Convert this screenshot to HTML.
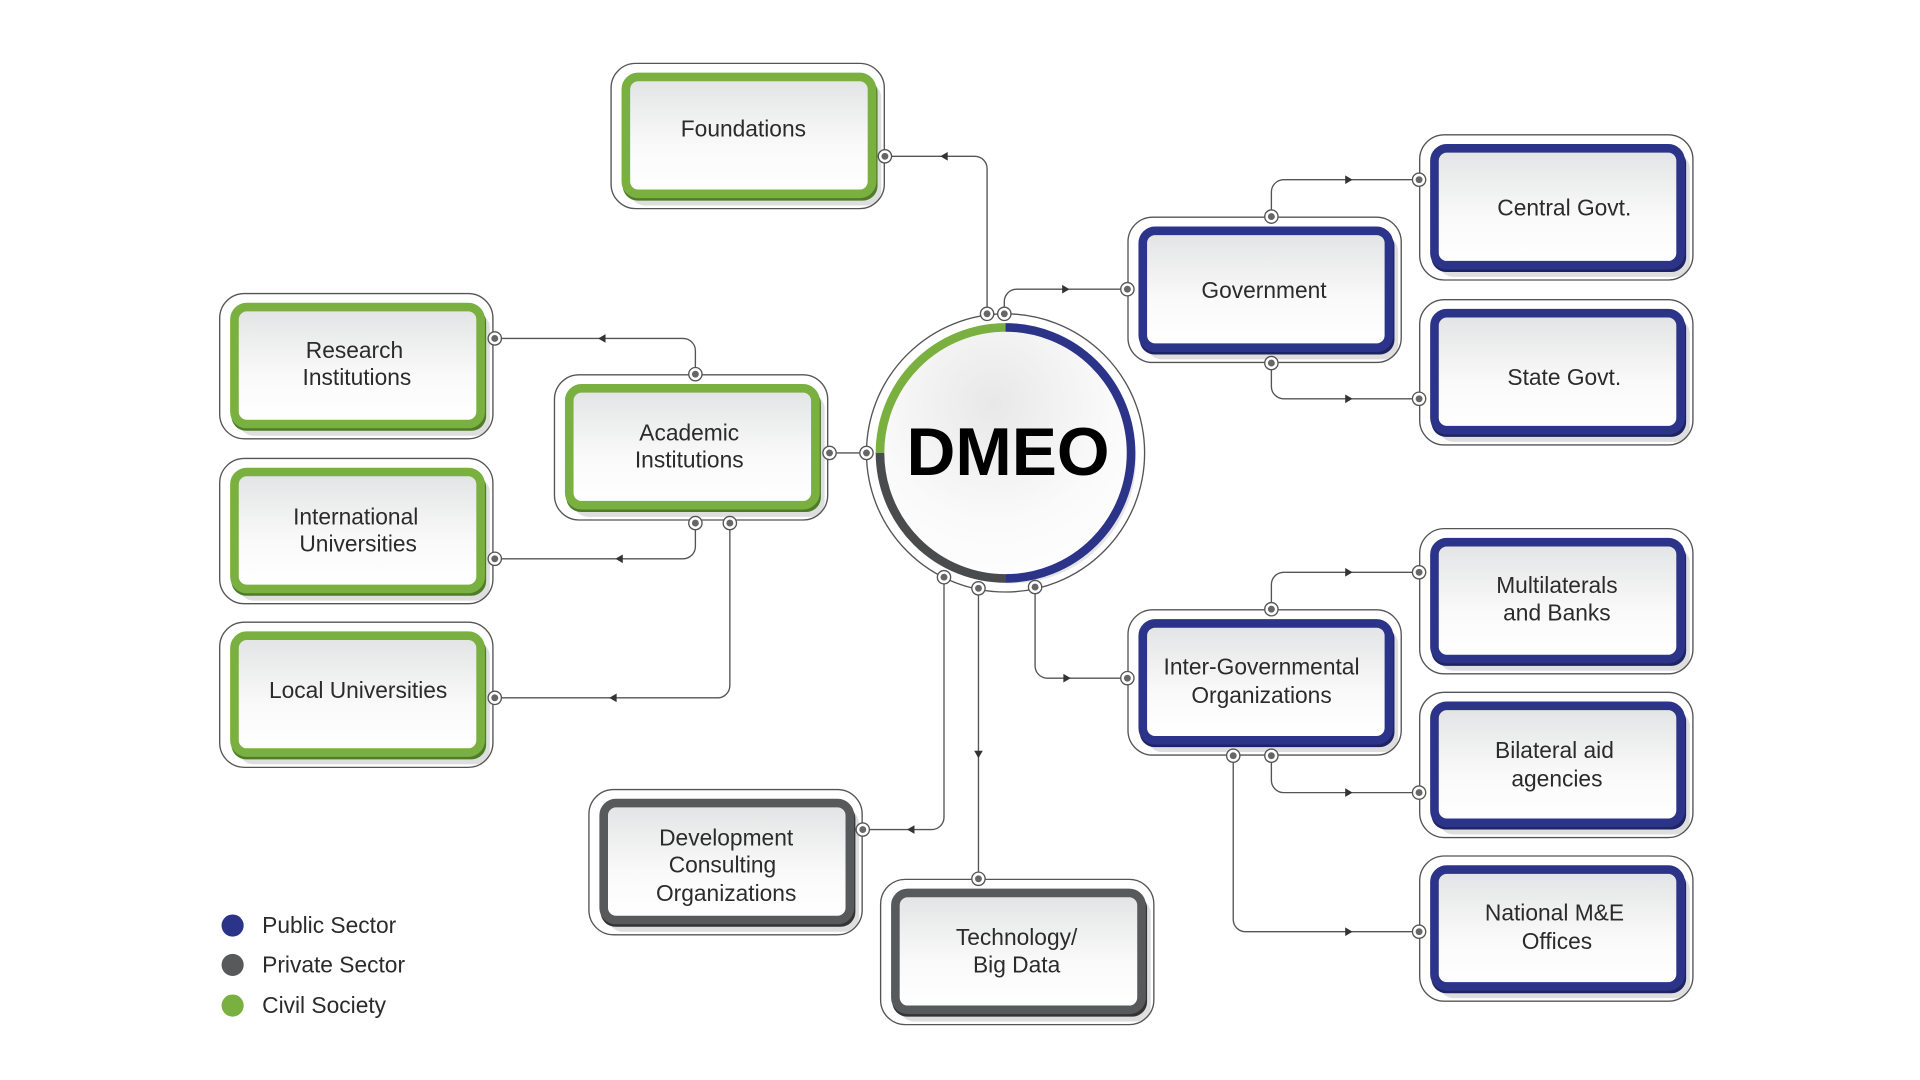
<!DOCTYPE html>
<html><head><meta charset="utf-8"><style>
html,body{margin:0;padding:0;background:#fff;width:1920px;height:1080px;overflow:hidden}
svg{display:block}
text{font-family:"Liberation Sans",Arial,sans-serif;fill:#2b2b2b}
.t{font-size:18.5px;text-anchor:middle}
.ln{fill:none;stroke:#555;stroke-width:1.1}
</style></head><body>
<svg width="1920" height="1080" viewBox="0 0 1560 877.5" preserveAspectRatio="none" xmlns="http://www.w3.org/2000/svg">
<defs>
<linearGradient id="fg" x1="0" y1="0" x2="0" y2="1"><stop offset="0" stop-color="#e2e3e4"/><stop offset="0.6" stop-color="#fafafa"/><stop offset="1" stop-color="#fff"/></linearGradient>
<radialGradient id="cg" cx="0.45" cy="0.3" r="0.8"><stop offset="0" stop-color="#e8e8e8"/><stop offset="0.6" stop-color="#fafafa"/><stop offset="1" stop-color="#fff"/></radialGradient>
<g id="dot"><circle r="5.4" fill="#fff" stroke="#555" stroke-width="1.1"/><circle r="2.8" fill="#666"/></g>
</defs>
<g transform="translate(-2,-1)">
<path class="ln" d="M804 256 V138 a10 10 0 0 0 -10 -10 H721"/>
<path class="ln" d="M818 256 V246 a10 10 0 0 1 10 -10 H918"/>
<path class="ln" d="M676 369 H706"/>
<path class="ln" d="M567 305 V286 a10 10 0 0 0 -10 -10 H404"/>
<path class="ln" d="M567 426 V445 a10 10 0 0 1 -10 10 H404"/>
<path class="ln" d="M595 426 V558 a10 10 0 0 1 -10 10 H404"/>
<path class="ln" d="M1035 177 V157 a10 10 0 0 1 10 -10 H1155"/>
<path class="ln" d="M1035 296 V315 a10 10 0 0 0 10 10 H1155"/>
<path class="ln" d="M843 478 V542 a10 10 0 0 0 10 10 H918"/>
<path class="ln" d="M1035 496 V476 a10 10 0 0 1 10 -10 H1155"/>
<path class="ln" d="M1035 615 V635 a10 10 0 0 0 10 10 H1155"/>
<path class="ln" d="M1004 615 V748 a10 10 0 0 0 10 10 H1155"/>
<path class="ln" d="M769 470 V665 a10 10 0 0 1 -10 10 H703"/>
<path class="ln" d="M797 479 V715"/>
<g fill="#333">
<path d="M766 128 l6 -3.5 v7z"/>
<path d="M871 236 l-6 -3.5 v7z"/>
<path d="M488 276 l6 -3.5 v7z"/>
<path d="M502 455 l6 -3.5 v7z"/>
<path d="M497 568 l6 -3.5 v7z"/>
<path d="M1101 147 l-6 -3.5 v7z"/>
<path d="M1101 325 l-6 -3.5 v7z"/>
<path d="M872 552 l-6 -3.5 v7z"/>
<path d="M1101 466 l-6 -3.5 v7z"/>
<path d="M1101 645 l-6 -3.5 v7z"/>
<path d="M1101 758 l-6 -3.5 v7z"/>
<path d="M739 675 l6 -3.5 v7z"/>
<path d="M797 617 l-3.5 -6 h7z"/>
</g>

<circle cx="819" cy="369" r="113" fill="#fff" stroke="#555" stroke-width="1.1"/>
<circle cx="824" cy="374" r="101" fill="#000" opacity="0.10"/>
<circle cx="819" cy="369" r="101" fill="url(#cg)"/>
<path d="M717 369 A102 102 0 0 1 819 267" fill="none" stroke="#7ab03f" stroke-width="7"/>
<path d="M819 267 A102 102 0 0 1 819 471" fill="none" stroke="#2b3489" stroke-width="7"/>
<path d="M819 471 A102 102 0 0 1 717 369" fill="none" stroke="#4a4b4d" stroke-width="7"/>
<text x="821" y="387" style="font-size:55px;font-weight:bold;text-anchor:middle;fill:#000">DMEO</text>

<g transform="translate(498,52)">
<rect x="0.5" y="0.5" width="222" height="118" rx="20" fill="#fff" stroke="#555" stroke-width="1.1"/>
<rect x="16" y="16" width="204" height="100" rx="12" fill="#000" opacity="0.13"/>
<rect x="10" y="12" width="207" height="100" rx="12" fill="#4e7d2a"/>
<rect x="12.5" y="11.5" width="200" height="95" rx="10" fill="url(#fg)" stroke="#7ab03f" stroke-width="7"/>
<text class="t" x="108" y="60">Foundations</text></g>
<g transform="translate(180,239)">
<rect x="0.5" y="0.5" width="222" height="118" rx="20" fill="#fff" stroke="#555" stroke-width="1.1"/>
<rect x="16" y="16" width="204" height="100" rx="12" fill="#000" opacity="0.13"/>
<rect x="10" y="12" width="207" height="100" rx="12" fill="#4e7d2a"/>
<rect x="12.5" y="11.5" width="200" height="95" rx="10" fill="url(#fg)" stroke="#7ab03f" stroke-width="7"/>
<text class="t" x="110" y="53">Research</text><text class="t" x="112" y="75">Institutions</text></g>
<g transform="translate(180,373)">
<rect x="0.5" y="0.5" width="222" height="118" rx="20" fill="#fff" stroke="#555" stroke-width="1.1"/>
<rect x="16" y="16" width="204" height="100" rx="12" fill="#000" opacity="0.13"/>
<rect x="10" y="12" width="207" height="100" rx="12" fill="#4e7d2a"/>
<rect x="12.5" y="11.5" width="200" height="95" rx="10" fill="url(#fg)" stroke="#7ab03f" stroke-width="7"/>
<text class="t" x="111" y="54">International</text><text class="t" x="113" y="76">Universities</text></g>
<g transform="translate(180,506)">
<rect x="0.5" y="0.5" width="222" height="118" rx="20" fill="#fff" stroke="#555" stroke-width="1.1"/>
<rect x="16" y="16" width="204" height="100" rx="12" fill="#000" opacity="0.13"/>
<rect x="10" y="12" width="207" height="100" rx="12" fill="#4e7d2a"/>
<rect x="12.5" y="11.5" width="200" height="95" rx="10" fill="url(#fg)" stroke="#7ab03f" stroke-width="7"/>
<text class="t" x="113" y="62">Local Universities</text></g>
<g transform="translate(452,305)">
<rect x="0.5" y="0.5" width="222" height="118" rx="20" fill="#fff" stroke="#555" stroke-width="1.1"/>
<rect x="16" y="16" width="204" height="100" rx="12" fill="#000" opacity="0.13"/>
<rect x="10" y="12" width="207" height="100" rx="12" fill="#4e7d2a"/>
<rect x="12.5" y="11.5" width="200" height="95" rx="10" fill="url(#fg)" stroke="#7ab03f" stroke-width="7"/>
<text class="t" x="110" y="54">Academic</text><text class="t" x="110" y="76">Institutions</text></g>
<g transform="translate(918,177)">
<rect x="0.5" y="0.5" width="222" height="118" rx="20" fill="#fff" stroke="#555" stroke-width="1.1"/>
<rect x="16" y="16" width="204" height="100" rx="12" fill="#000" opacity="0.13"/>
<rect x="10" y="12" width="207" height="100" rx="12" fill="#1e2462"/>
<rect x="12.5" y="11.5" width="200" height="95" rx="10" fill="url(#fg)" stroke="#2b3489" stroke-width="7"/>
<text class="t" x="111" y="66">Government</text></g>
<g transform="translate(1155,110)">
<rect x="0.5" y="0.5" width="222" height="118" rx="20" fill="#fff" stroke="#555" stroke-width="1.1"/>
<rect x="16" y="16" width="204" height="100" rx="12" fill="#000" opacity="0.13"/>
<rect x="10" y="12" width="207" height="100" rx="12" fill="#1e2462"/>
<rect x="12.5" y="11.5" width="200" height="95" rx="10" fill="url(#fg)" stroke="#2b3489" stroke-width="7"/>
<text class="t" x="118" y="66">Central Govt.</text></g>
<g transform="translate(1155,244)">
<rect x="0.5" y="0.5" width="222" height="118" rx="20" fill="#fff" stroke="#555" stroke-width="1.1"/>
<rect x="16" y="16" width="204" height="100" rx="12" fill="#000" opacity="0.13"/>
<rect x="10" y="12" width="207" height="100" rx="12" fill="#1e2462"/>
<rect x="12.5" y="11.5" width="200" height="95" rx="10" fill="url(#fg)" stroke="#2b3489" stroke-width="7"/>
<text class="t" x="118" y="70">State Govt.</text></g>
<g transform="translate(1155,430)">
<rect x="0.5" y="0.5" width="222" height="118" rx="20" fill="#fff" stroke="#555" stroke-width="1.1"/>
<rect x="16" y="16" width="204" height="100" rx="12" fill="#000" opacity="0.13"/>
<rect x="10" y="12" width="207" height="100" rx="12" fill="#1e2462"/>
<rect x="12.5" y="11.5" width="200" height="95" rx="10" fill="url(#fg)" stroke="#2b3489" stroke-width="7"/>
<text class="t" x="112" y="53">Multilaterals</text><text class="t" x="112" y="75">and Banks</text></g>
<g transform="translate(918,496)">
<rect x="0.5" y="0.5" width="222" height="118" rx="20" fill="#fff" stroke="#555" stroke-width="1.1"/>
<rect x="16" y="16" width="204" height="100" rx="12" fill="#000" opacity="0.13"/>
<rect x="10" y="12" width="207" height="100" rx="12" fill="#1e2462"/>
<rect x="12.5" y="11.5" width="200" height="95" rx="10" fill="url(#fg)" stroke="#2b3489" stroke-width="7"/>
<text class="t" x="109" y="53">Inter-Governmental</text><text class="t" x="109" y="76">Organizations</text></g>
<g transform="translate(1155,563)">
<rect x="0.5" y="0.5" width="222" height="118" rx="20" fill="#fff" stroke="#555" stroke-width="1.1"/>
<rect x="16" y="16" width="204" height="100" rx="12" fill="#000" opacity="0.13"/>
<rect x="10" y="12" width="207" height="100" rx="12" fill="#1e2462"/>
<rect x="12.5" y="11.5" width="200" height="95" rx="10" fill="url(#fg)" stroke="#2b3489" stroke-width="7"/>
<text class="t" x="110" y="54">Bilateral aid</text><text class="t" x="112" y="77">agencies</text></g>
<g transform="translate(1155,696)">
<rect x="0.5" y="0.5" width="222" height="118" rx="20" fill="#fff" stroke="#555" stroke-width="1.1"/>
<rect x="16" y="16" width="204" height="100" rx="12" fill="#000" opacity="0.13"/>
<rect x="10" y="12" width="207" height="100" rx="12" fill="#1e2462"/>
<rect x="12.5" y="11.5" width="200" height="95" rx="10" fill="url(#fg)" stroke="#2b3489" stroke-width="7"/>
<text class="t" x="110" y="53">National M&amp;E</text><text class="t" x="112" y="76">Offices</text></g>
<g transform="translate(480,642)">
<rect x="0.5" y="0.5" width="222" height="118" rx="20" fill="#fff" stroke="#555" stroke-width="1.1"/>
<rect x="16" y="16" width="204" height="100" rx="12" fill="#000" opacity="0.13"/>
<rect x="10" y="12" width="207" height="100" rx="12" fill="#333436"/>
<rect x="12.5" y="11.5" width="200" height="95" rx="10" fill="url(#fg)" stroke="#58595b" stroke-width="7"/>
<text class="t" x="112" y="46">Development</text><text class="t" x="109" y="68">Consulting</text><text class="t" x="112" y="91">Organizations</text></g>
<g transform="translate(717,715)">
<rect x="0.5" y="0.5" width="222" height="118" rx="20" fill="#fff" stroke="#555" stroke-width="1.1"/>
<rect x="16" y="16" width="204" height="100" rx="12" fill="#000" opacity="0.13"/>
<rect x="10" y="12" width="207" height="100" rx="12" fill="#333436"/>
<rect x="12.5" y="11.5" width="200" height="95" rx="10" fill="url(#fg)" stroke="#58595b" stroke-width="7"/>
<text class="t" x="111" y="54">Technology/</text><text class="t" x="111" y="76">Big Data</text></g>

<use href="#dot" x="804" y="256"/><use href="#dot" x="818" y="256"/>
<use href="#dot" x="721" y="128"/><use href="#dot" x="918" y="236"/>
<use href="#dot" x="676" y="369"/><use href="#dot" x="706" y="369"/>
<use href="#dot" x="567" y="305"/><use href="#dot" x="404" y="276"/>
<use href="#dot" x="567" y="426"/><use href="#dot" x="595" y="426"/>
<use href="#dot" x="404" y="455"/><use href="#dot" x="404" y="568"/>
<use href="#dot" x="1035" y="177"/><use href="#dot" x="1035" y="296"/>
<use href="#dot" x="1155" y="147"/><use href="#dot" x="1155" y="325"/>
<use href="#dot" x="843" y="478"/><use href="#dot" x="918" y="552"/>
<use href="#dot" x="1035" y="496"/><use href="#dot" x="1035" y="615"/><use href="#dot" x="1004" y="615"/>
<use href="#dot" x="1155" y="466"/><use href="#dot" x="1155" y="645"/><use href="#dot" x="1155" y="758"/>
<use href="#dot" x="769" y="470"/><use href="#dot" x="797" y="479"/>
<use href="#dot" x="703" y="675"/><use href="#dot" x="797" y="715"/>

<circle cx="191" cy="753" r="9" fill="#2b3489"/>
<circle cx="191" cy="785" r="9" fill="#58595b"/>
<circle cx="191" cy="818" r="9" fill="#7ab03f"/>
<text x="215" y="759" style="font-size:18.5px">Public Sector</text>
<text x="215" y="791" style="font-size:18.5px">Private Sector</text>
<text x="215" y="824" style="font-size:18.5px">Civil Society</text>
</g>
</svg>
</body></html>
